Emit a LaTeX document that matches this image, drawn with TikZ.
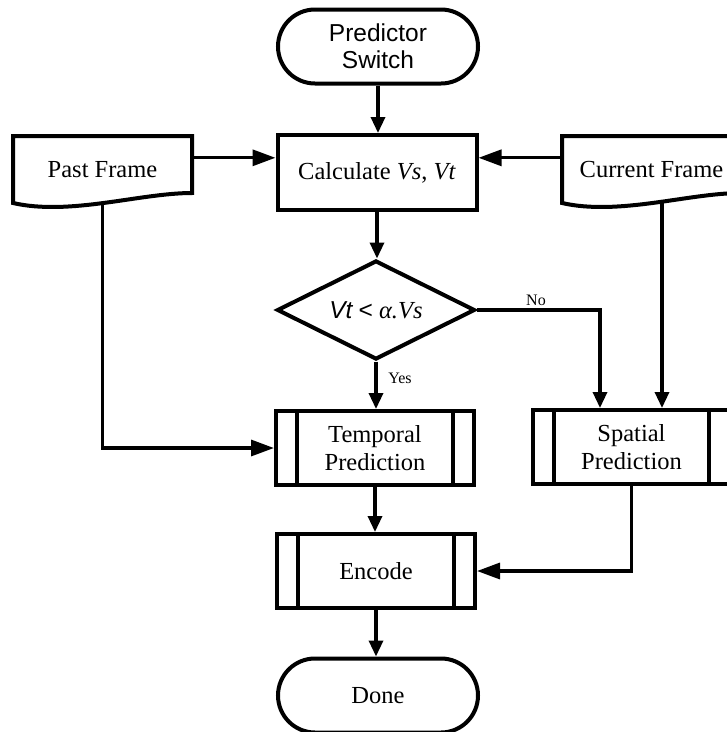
\documentclass[tikz,border=0pt]{standalone}
\usepackage{fontspec}
\setmainfont{Liberation Serif}
\newfontfamily\arialf{Liberation Sans}
\usetikzlibrary{shapes.geometric,shapes.misc,arrows.meta}
\tikzset{
  every node/.style={inner sep=0pt, font=\fontsize{24.5}{28}\selectfont},
  shp/.style={draw, line width=4pt, fill=white, align=center},
  termbox/.style={shp, rounded rectangle, minimum width=200pt, minimum height=74pt},
  procbox/.style={shp, rectangle, minimum width=199pt, minimum height=75pt},
  predbox/.style={shp, rectangle, minimum width=198pt, minimum height=74pt},
  docbox/.style={rectangle, minimum width=179pt, minimum height=67pt, align=center},
  decbox/.style={shp, diamond, aspect=2, minimum width=198pt, minimum height=99pt},
  lbl/.style={font=\fontsize{16}{18}\selectfont},
  conn/.style={line width=3.3pt},
  arrv/.style={conn, -{Triangle[length=16pt,width=14pt]}},
  arrh/.style={conn, -{Triangle[length=23pt,width=16pt]}},
}
\begin{document}
\begin{tikzpicture}[x=1pt,y=-1pt, line join=miter]
\useasboundingbox (0,0) rectangle (727,732);
\clip (0,0) rectangle (727,732);

% document shapes
\draw[line width=4pt, fill=white] (13,136) -- (192,136) -- (192,193)
  .. controls (140,193) and (70,216) .. (13,203) -- cycle;
\draw[line width=4pt, fill=white] (562,136) -- (741,136) -- (741,193)
  .. controls (689,193) and (619,216) .. (562,203) -- cycle;
\node[docbox] (past) at (102.5,169.5) {Past Frame};
\node[docbox] (cur) at (651.5,169.5) {Current Frame};

\node[termbox, font=\arialf\fontsize{24.5}{27}\selectfont] (ps) at (378,46.5) {Predictor\\Switch};
\node[procbox] (calc) at (377,172.5) {Calculate \textit{Vs}, \textit{Vt}};
\node[decbox] (dec) at (376,310) {{\arialf\itshape Vt} {\arialf <} \textit{α.Vs}};
\node[predbox] (temp) at (375,448) {Temporal\\Prediction};
\node[predbox, minimum width=197pt] (spat) at (631.5,447) {Spatial\\Prediction};
\node[predbox] (enc) at (376,571) {Encode};
\node[termbox] (done) at (378,695.5) {Done};

% predefined-process inner bars
\foreach \n in {temp,spat,enc}{
  \draw[line width=4pt] ([xshift=23pt]\n.north west) -- ([xshift=23pt]\n.south west);
  \draw[line width=4pt] ([xshift=-23pt]\n.north east) -- ([xshift=-23pt]\n.south east);
}

% connectors
\draw[arrv] (ps.south) -- (ps.south |- calc.north);
\draw[arrh] ([yshift=-22pt]past.north east) -- ([yshift=-22pt]past.north east -| calc.west);
\draw[arrh] ([yshift=-22pt]cur.north west) -- ([yshift=-22pt]cur.north west -| calc.east);
\draw[arrv] (calc.south) -- (calc.south |- dec.north);
\draw[arrv] (dec.south) -- (dec.south |- temp.north);
\draw[arrv] (dec.east) -| ([xshift=-31.5pt]spat.north);
\draw[arrv] ([xshift=10.5pt]cur.south) -- ([xshift=10.5pt]cur.south |- spat.north);
\draw[arrh] ([yshift=-1pt]past.south) |- (temp.west);
\draw[arrv] (temp.south) -- (temp.south |- enc.north);
\draw[arrh] (spat.south) |- (enc.east);
\draw[arrv] (enc.south) -- (enc.south |- done.north);

\node[lbl] (no) at (536,300) {No};
\node[lbl] (yes) at (400,378) {Yes};
\end{tikzpicture}
\end{document}
